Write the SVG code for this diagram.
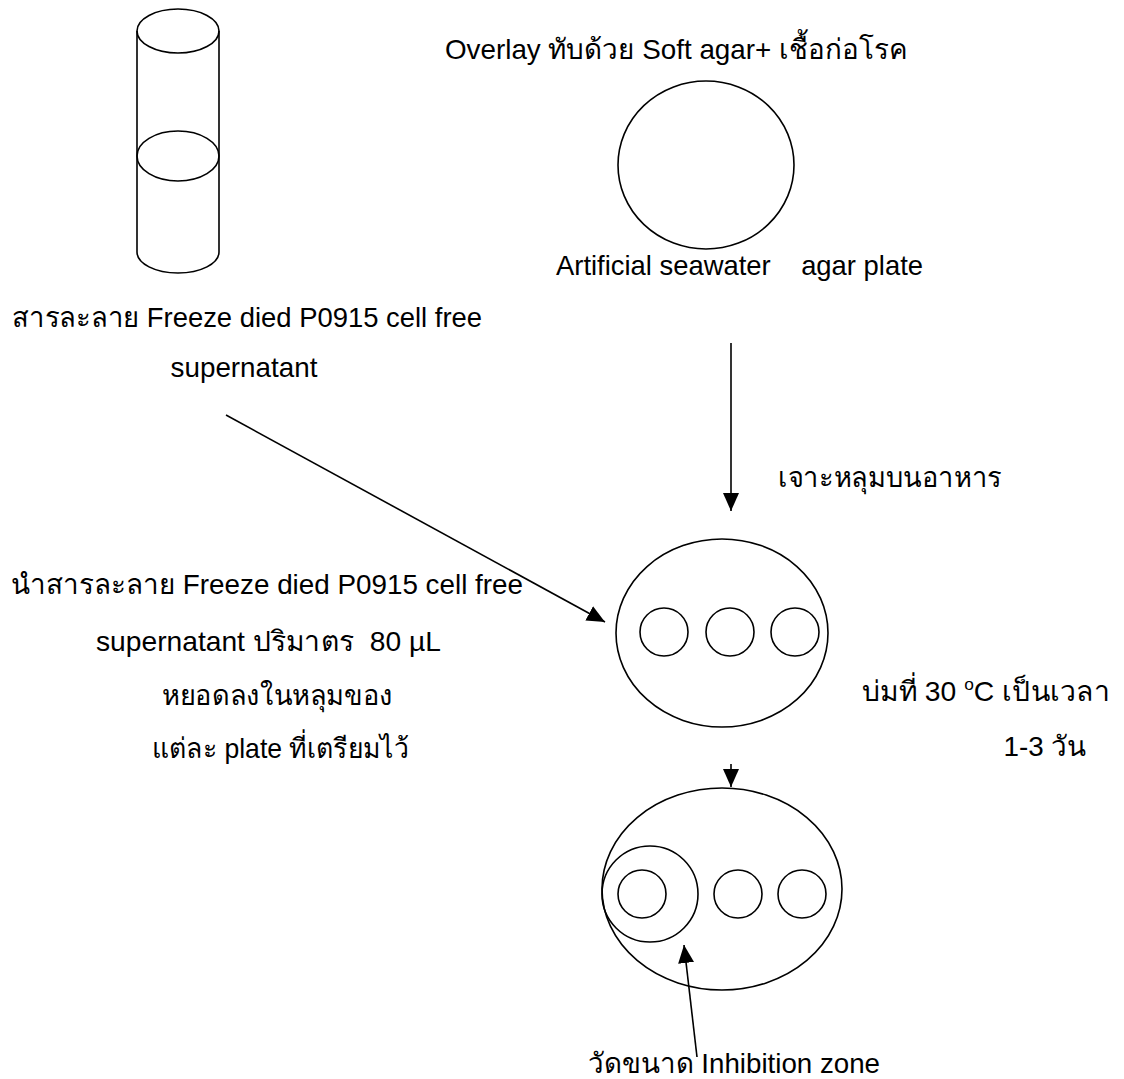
<svg xmlns="http://www.w3.org/2000/svg" width="1124" height="1079" viewBox="0 0 1124 1079">
<style>
.s{fill:none;stroke:#000;stroke-width:1.6}
.t{font-family:"Liberation Sans","Noto Sans","DejaVu Sans",sans-serif;font-size:27.8px;fill:#000}
.m{text-anchor:middle}
</style>
<defs>
<marker id="ah" markerUnits="userSpaceOnUse" markerWidth="18" markerHeight="18" viewBox="0 0 18 16" refX="18" refY="8" orient="auto">
<path d="M0,0 L18,8 L0,16 Z" fill="#000"/>
</marker>
</defs>
<rect width="1124" height="1079" fill="#fff"/>
<g id="tube">
<ellipse class="s" cx="178" cy="31" rx="41" ry="22"/>
<ellipse class="s" cx="178" cy="156" rx="41" ry="25"/>
<path class="s" d="M137,31 L137,252 A41,21 0 0 0 219,252 L219,31"/>
</g>
<g id="tube-label">
<text class="t" x="12" y="327" textLength="470" lengthAdjust="spacingAndGlyphs">สารละลาย Freeze died P0915 cell free</text>
<text class="t m" x="244" y="377">supernatant</text>
</g>
<g id="plate-top">
<text class="t" x="445" y="59" textLength="463" lengthAdjust="spacingAndGlyphs">Overlay ทับด้วย Soft agar+ เชื้อก่อโรค</text>
<ellipse class="s" cx="706" cy="165" rx="88" ry="84"/>
<text class="t" x="556" y="275" xml:space="preserve" textLength="367" lengthAdjust="spacingAndGlyphs">Artificial seawater    agar plate</text>
</g>
<g id="step-holes">
<text class="t" x="778" y="487" textLength="224" lengthAdjust="spacingAndGlyphs">เจาะหลุมบนอาหาร</text>
</g>
<g id="plate-middle">
<ellipse class="s" cx="722" cy="633" rx="106" ry="94"/>
<circle class="s" cx="664" cy="632" r="24"/>
<circle class="s" cx="730" cy="632" r="24"/>
<circle class="s" cx="795" cy="632" r="24"/>
</g>
<g id="step-add">
<text class="t" x="11" y="594" textLength="512" lengthAdjust="spacingAndGlyphs">นำสารละลาย Freeze died P0915 cell free</text>
<text class="t" x="96" y="651" xml:space="preserve" textLength="345" lengthAdjust="spacingAndGlyphs">supernatant ปริมาตร  80 µL</text>
<text class="t" x="162" y="705" textLength="231" lengthAdjust="spacingAndGlyphs">หยอดลงในหลุมของ</text>
<text class="t" x="152" y="758" textLength="257" lengthAdjust="spacingAndGlyphs">แต่ละ plate ที่เตรียมไว้</text>
</g>
<g id="step-incubate">
<text class="t" x="862" y="701" textLength="248" lengthAdjust="spacingAndGlyphs">บ่มที่ 30 <tspan font-size="17" dy="-11">o</tspan><tspan dy="11">C เป็นเวลา</tspan></text>
<text class="t m" x="1045" y="756">1-3 วัน</text>
</g>
<g id="plate-bottom">
<ellipse class="s" cx="722" cy="889" rx="120" ry="101"/>
<circle class="s" cx="650" cy="894" r="48"/>
<circle class="s" cx="642" cy="894" r="24"/>
<circle class="s" cx="738" cy="894" r="24"/>
<circle class="s" cx="802" cy="894" r="24"/>
</g>
<g id="measure">
<text class="t" x="588" y="1073" textLength="292" lengthAdjust="spacingAndGlyphs">วัดขนาด Inhibition zone</text>
</g>
<g id="connectors">
<line class="s" x1="226" y1="415" x2="605" y2="622" marker-end="url(#ah)"/>
<line class="s" x1="731" y1="343" x2="731" y2="511" marker-end="url(#ah)"/>
<line class="s" x1="731" y1="764" x2="731" y2="787" marker-end="url(#ah)"/>
<line class="s" x1="697" y1="1057" x2="684" y2="945" marker-end="url(#ah)"/>
</g>
</svg>
